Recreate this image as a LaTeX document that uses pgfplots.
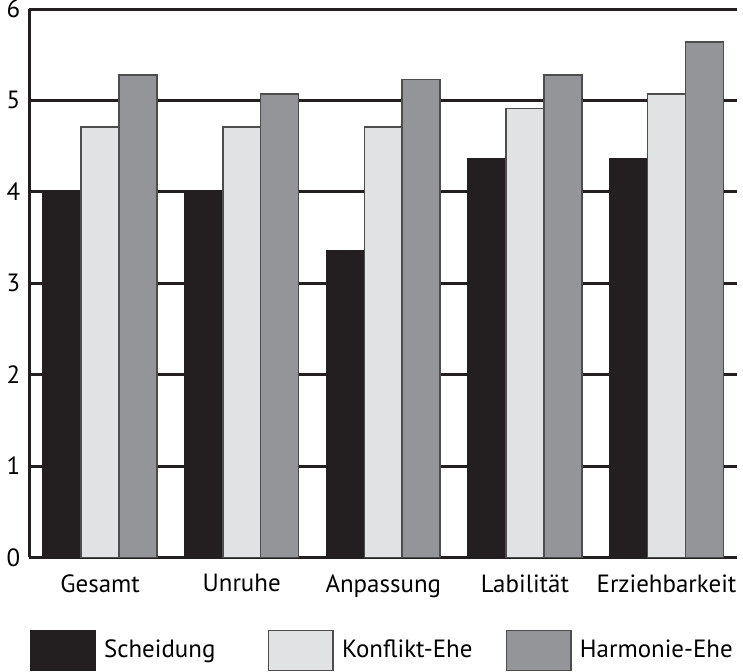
\documentclass[border=0pt]{standalone}
\usepackage{pgfplots}
\pgfplotsset{compat=1.18}
\usepackage{fontspec}
\setmainfont{PT Sans}
\definecolor{ink}{HTML}{231F20}
\definecolor{edge}{HTML}{4D4D4F}
\definecolor{konflikt}{HTML}{E1E2E4}
\definecolor{harmonie}{HTML}{939598}

\pgfplotstableread{
x scheidung konflikt harmonie
0 4.00 4.71 5.28
1 4.00 4.71 5.07
2 3.36 4.71 5.23
3 4.36 4.91 5.28
4 4.36 5.07 5.64
}\data

\begin{document}
\begin{tikzpicture}
\begin{axis}[
  width=355pt, height=275pt, scale only axis,
  font=\fontsize{12.5}{14}\selectfont,
  /pgf/number format/assume math mode=true,
  ybar=0pt, bar width=19pt,
  xmin=-0.5, xmax=4.5, ymin=0, ymax=6,
  xtick={0,1,2,3,4},
  xticklabels={Gesamt, Unruhe, Anpassung, Labilität, Erziehbarkeit},
  ytick={0,1,2,3,4,5,6},
  major tick length=0pt,
  axis lines*=left,
  axis line style={line width=1.5pt, color=ink, -},
  ymajorgrids,
  grid style={line width=1.5pt, color=ink},
  xticklabel style={yshift=-5pt},
  yticklabel style={inner ysep=0pt, xshift=-1pt},
  legend columns=3,
  legend style={at={(0,0)}, anchor=north west, yshift=-36pt, draw=none,
    inner sep=0pt, fill=none,
    /tikz/every even column/.append style={column sep=0pt}},
  legend cell align=left,
  legend image code/.code={\draw[#1] (0pt,-10pt) rectangle (32.5pt,10pt);},
]
\addplot[fill=ink, draw=ink, line width=0.8pt] table[x=x, y=scheidung] {\data};
\addplot[fill=konflikt, draw=edge, line width=0.8pt] table[x=x, y=konflikt] {\data};
\addplot[fill=harmonie, draw=edge, line width=0.8pt] table[x=x, y=harmonie] {\data};
\addlegendentry{\hspace*{2pt}\makebox[80pt][l]{Scheidung}}
\addlegendentry{\hspace*{2pt}\makebox[80pt][l]{Konflikt-Ehe}}
\addlegendentry{\hspace*{2pt}Harmonie-Ehe}
\end{axis}
\end{tikzpicture}
\end{document}
